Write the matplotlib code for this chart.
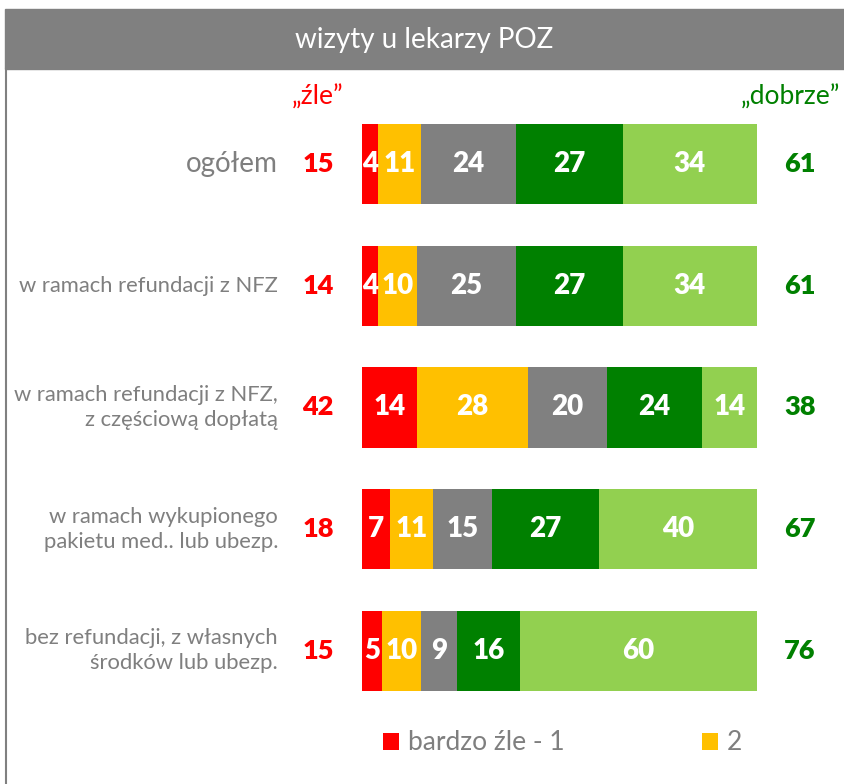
import numpy as np
import matplotlib.pyplot as plt
from matplotlib.patches import Rectangle
from matplotlib.lines import Line2D

plt.rcParams['font.family'] = ['Lato', 'DejaVu Sans']

# data
categories = [
    'ogółem',
    'w ramach refundacji z NFZ',
    'w ramach refundacji z NFZ,\nz częściową dopłatą',
    'w ramach wykupionego\npakietu med.. lub ubezp.',
    'bez refundacji, z własnych\nśrodków lub ubezp.',
]
series_names = ['bardzo źle - 1', '2', '3', '4', 'bardzo dobrze - 5']
bardzo_zle = [4, 4, 14, 7, 5]
ocena_2 = [11, 10, 28, 11, 10]
ocena_3 = [24, 25, 20, 15, 9]
ocena_4 = [27, 27, 24, 27, 16]
bardzo_dobrze = [34, 34, 14, 40, 60]
zle_total = [15, 14, 42, 18, 15]
dobrze_total = [61, 61, 38, 67, 76]

colors = ['#FF0000', '#FFC000', '#808080', '#008000', '#92D050']
RED = '#FF0000'
GREEN = '#008000'
GREY_TXT = '#7F7F7F'

W, H = 844, 784
fig = plt.figure(figsize=(W / 100, H / 100), dpi=100)
ax = fig.add_axes([0, 0, 1, 1])

# map data to pixel layout
px_per_pct = 3.95
bar_left_px = 362
row0_px, row_step = 164, 121.7
ax.set_xlim(-bar_left_px / px_per_pct, (W - bar_left_px) / px_per_pct)
ax.set_ylim((H - row0_px) / row_step, -row0_px / row_step)
ax.axis('off')

y = np.arange(len(categories))
series = [bardzo_zle, ocena_2, ocena_3, ocena_4, bardzo_dobrze]
left = np.zeros(len(categories))
bars = []
for vals, c, name in zip(series, colors, series_names):
    b = ax.barh(y, vals, left=left, height=0.66, color=c, label=name)
    bars.append(b)
    for yi, (l, v) in enumerate(zip(left, vals)):
        ax.text(l + v / 2, yi, str(v), ha='center', va='center', color='white',
                fontsize=20, fontweight='heavy')
    left += np.array(vals)

x_lab = (278 - bar_left_px) / px_per_pct
x_zle = (318 - bar_left_px) / px_per_pct
x_dob = (800 - bar_left_px) / px_per_pct
for yi, cat in enumerate(categories):
    fs = 20 if yi == 0 else 15.8
    ax.text(x_lab, yi, cat, ha='right', va='center', color=GREY_TXT,
            fontsize=fs, linespacing=1.3)
    ax.text(x_zle, yi, str(zle_total[yi]), ha='center', va='center', color=RED,
            fontsize=19.5, fontweight='heavy')
    ax.text(x_dob, yi, str(dobrze_total[yi]), ha='center', va='center', color=GREEN,
            fontsize=19.5, fontweight='heavy')

# column headers
fig.text(318 / W, 1 - 97 / H, '„źle”', ha='center', va='center', color=RED, fontsize=19)
fig.text(790 / W, 1 - 97 / H, '„dobrze”', ha='center', va='center', color=GREEN, fontsize=19)

# title band
fig.patches.append(Rectangle((5 / W, 1 - 69 / H), 1 - 5 / W, 60 / H,
                             transform=fig.transFigure, color='#808080', zorder=0))
fig.text((5 + W) / 2 / W, 1 - 40 / H, 'wizyty u lekarzy POZ', ha='center', va='center',
         color='white', fontsize=20)
fig.lines.append(Line2D([5.5 / W, 5.5 / W], [0, 1 - 69 / H], transform=fig.transFigure,
                        color='#808080', lw=1.5))

# legend (only first two entries visible)
fig.legend(handles=bars[:2], labels=series_names[:2], loc='center left',
           bbox_to_anchor=(359 / W, 1 - 743 / H), ncol=2, frameon=False,
           fontsize=19, labelcolor=GREY_TXT, handlelength=0.6, handleheight=0.6,
           handletextpad=0.35, columnspacing=5.2)

fig.savefig('out.png', dpi=100)
